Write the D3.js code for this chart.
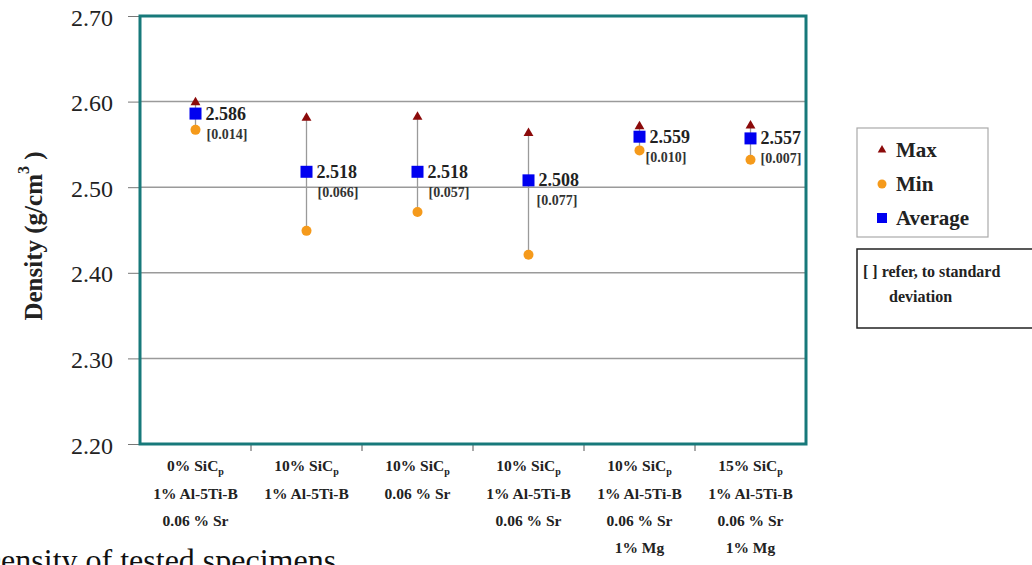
<!DOCTYPE html>
<html><head><meta charset="utf-8">
<script src="https://cdn.jsdelivr.net/npm/d3@7"></script>
<style>
body{margin:0;background:#fff;}
svg, svg text{font-family:"Liberation Serif","Times New Roman","DejaVu Serif",serif !important;}
svg{display:block;}
</style></head>
<body><svg id="c" width="1032" height="565"></svg>
<script>
// Specimen groups (each label line; "SiC" lines carry a subscript p)
const categories = [
  ["0% SiC|p", "1% Al-5Ti-B", "0.06 % Sr"],
  ["10% SiC|p", "1% Al-5Ti-B"],
  ["10% SiC|p", "0.06 % Sr"],
  ["10% SiC|p", "1% Al-5Ti-B", "0.06 % Sr"],
  ["10% SiC|p", "1% Al-5Ti-B", "0.06 % Sr", "1% Mg"],
  ["15% SiC|p", "1% Al-5Ti-B", "0.06 % Sr", "1% Mg"]
];
const maxVals = [2.599, 2.581, 2.582, 2.563, 2.571, 2.572];
const minVals = [2.567, 2.449, 2.471, 2.421, 2.543, 2.532];
const avgVals = [2.586, 2.518, 2.518, 2.508, 2.559, 2.557];
const stdVals = ["0.014", "0.066", "0.057", "0.077", "0.010", "0.007"];
const yTicks = [2.20, 2.30, 2.40, 2.50, 2.60, 2.70];

// label placement next to each average marker (pixels)
const stdLabelDx = [11, 11, 11, 8, 6, 10];

const svg = d3.select("#c");
const L = 140, R = 806, T = 16, B = 444;

const x = d3.scaleBand().domain(d3.range(categories.length)).range([L, R]);
const y = d3.scaleLinear().domain([2.20, 2.70]).range([B, T]);
const cxOf = i => x(i) + x.bandwidth() / 2;

// horizontal gridlines
svg.append("g").selectAll("line").data(yTicks.slice(1, -1)).join("line")
  .attr("x1", L).attr("x2", R).attr("y1", d => y(d)).attr("y2", d => y(d))
  .attr("stroke", "#9a9a9a").attr("stroke-width", 1.5);

// y axis
const yAxis = svg.append("g").attr("transform", `translate(${L},0)`)
  .call(d3.axisLeft(y).tickValues(yTicks).tickFormat(d3.format(".2f")).tickSizeOuter(0).tickSize(12).tickPadding(15));
yAxis.attr("font-family", null);
yAxis.select(".domain").remove();
yAxis.selectAll(".tick line").attr("stroke", "#777").attr("stroke-width", 1);
yAxis.selectAll(".tick text").attr("font-size", 24).attr("fill", "#222").attr("dy", "0.38em");

// bottom tick marks between groups
svg.append("g").selectAll("line").data(d3.range(1, categories.length)).join("line")
  .attr("x1", d => x(d)).attr("x2", d => x(d)).attr("y1", B).attr("y2", B + 7)
  .attr("stroke", "#555").attr("stroke-width", 1);

// plot frame
svg.append("rect").attr("x", L).attr("y", T).attr("width", R - L).attr("height", B - T)
  .attr("fill", "none").attr("stroke", "#17797a").attr("stroke-width", 3);

// category labels
const lineY = [466, 494, 521, 548];
categories.forEach((lines, i) => {
  lines.forEach((s, j) => {
    const t = svg.append("text").attr("x", cxOf(i)).attr("y", lineY[j] + 5)
      .attr("text-anchor", "middle").attr("font-size", 15.5).attr("font-weight", "bold").attr("fill", "#222");
    const parts = s.split("|");
    t.append("tspan").text(parts[0]);
    if (parts[1]) t.append("tspan").attr("font-size", 10).attr("dy", 4).text(parts[1]);
  });
});

// whiskers and markers
const g = svg.append("g");
g.selectAll("line.w").data(d3.range(categories.length)).join("line")
  .attr("x1", cxOf).attr("x2", cxOf)
  .attr("y1", i => y(maxVals[i])).attr("y2", i => y(minVals[i]))
  .attr("stroke", "#9a9a9a").attr("stroke-width", 1.3);

const tri = d3.symbol().type(d3.symbolTriangle).size(42);
g.selectAll("path.max").data(d3.range(categories.length)).join("path")
  .attr("d", tri).attr("transform", i => `translate(${cxOf(i)},${y(maxVals[i])})`)
  .attr("fill", "#8b0a0a");
g.selectAll("circle.min").data(d3.range(categories.length)).join("circle")
  .attr("cx", cxOf).attr("cy", i => y(minVals[i])).attr("r", 5)
  .attr("fill", "#f59a1b");
g.selectAll("rect.avg").data(d3.range(categories.length)).join("rect")
  .attr("x", i => cxOf(i) - 6).attr("y", i => y(avgVals[i]) - 6)
  .attr("width", 12).attr("height", 12).attr("fill", "#0000f0");

// value and standard-deviation labels
avgVals.forEach((v, i) => {
  const cx = cxOf(i), cy = y(v);
  svg.append("text").attr("x", cx + 10).attr("y", cy + 6)
    .attr("font-size", 18).attr("font-weight", "bold").attr("fill", "#222").text(v.toFixed(3));
  svg.append("text").attr("x", cx + stdLabelDx[i]).attr("y", cy + 25)
    .attr("font-size", 14).attr("font-weight", "bold").attr("fill", "#333").text(`[${stdVals[i]}]`);
});

// y axis title
const yt = svg.append("text").attr("transform", "translate(42,236) rotate(-90)")
  .attr("text-anchor", "middle").attr("font-size", 25).attr("font-weight", "bold").attr("fill", "#222");
yt.append("tspan").text("Density (g/cm");
yt.append("tspan").attr("font-size", 16).attr("dy", -13).text("3");
yt.append("tspan").attr("dy", 13).text(" )");

// legend
svg.append("rect").attr("x", 857).attr("y", 128).attr("width", 131).attr("height", 109)
  .attr("fill", "#fff").attr("stroke", "#aaa").attr("stroke-width", 1.2);
const leg = [
  {name: "Max", y: 150},
  {name: "Min", y: 184},
  {name: "Average", y: 218}
];
svg.append("path").attr("d", d3.symbol().type(d3.symbolTriangle).size(32))
  .attr("transform", `translate(882,${leg[0].y})`).attr("fill", "#8b0a0a");
svg.append("circle").attr("cx", 882).attr("cy", leg[1].y).attr("r", 4.5).attr("fill", "#f59a1b");
svg.append("rect").attr("x", 877).attr("y", leg[2].y - 5).attr("width", 10).attr("height", 10).attr("fill", "#0000f0");
leg.forEach(d => {
  svg.append("text").attr("x", 896).attr("y", d.y + 7).attr("font-size", 21)
    .attr("font-weight", "bold").attr("fill", "#222").text(d.name);
});

// note box
svg.append("rect").attr("x", 857).attr("y", 249).attr("width", 190).attr("height", 79)
  .attr("fill", "#fff").attr("stroke", "#222").attr("stroke-width", 1.5);
svg.append("text").attr("x", 863).attr("y", 277).attr("font-size", 16).attr("font-weight", "bold")
  .attr("fill", "#222").text("[ ] refer, to standard");
svg.append("text").attr("x", 889).attr("y", 302).attr("font-size", 16).attr("font-weight", "bold")
  .attr("fill", "#222").text("deviation");

// caption
svg.append("text").attr("x", -22).attr("y", 571).attr("font-size", 32).attr("fill", "#111")
  .text("Density of tested specimens");
</script></body></html>
